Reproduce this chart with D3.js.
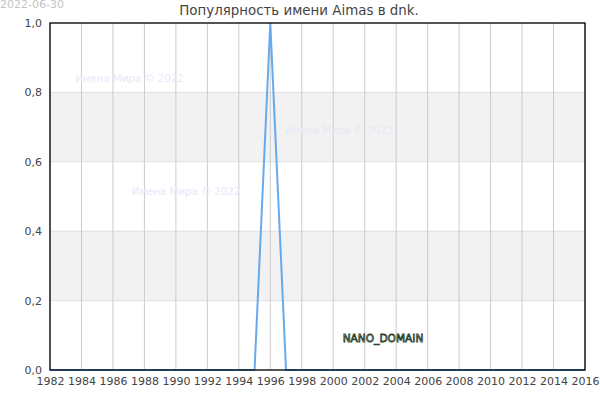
<!DOCTYPE html>
<html>
<head>
<meta charset="utf-8">
<script src="https://cdn.jsdelivr.net/npm/d3@7"></script>
<style>
  body { margin: 0; background: #fff; }
  text { font-family: "DejaVu Sans", sans-serif; }
</style>
</head>
<body>
<div class="graph"></div>
<script>
// data
var years = [1982, 1983, 1984, 1985, 1986, 1987, 1988, 1989, 1990, 1991, 1992, 1993, 1994, 1995,
             1996, 1997, 1998, 1999, 2000, 2001, 2002, 2003, 2004, 2005, 2006, 2007, 2008, 2009,
             2010, 2011, 2012, 2013, 2014, 2015, 2016]
var values = [0, 0, 0, 0, 0, 0, 0, 0, 0, 0, 0, 0, 0, 0,
              1, 0, 0, 0, 0, 0, 0, 0, 0, 0, 0, 0, 0, 0,
              0, 0, 0, 0, 0, 0, 0]
var xTicks = [1982, 1984, 1986, 1988, 1990, 1992, 1994, 1996, 1998, 2000, 2002, 2004, 2006, 2008, 2010, 2012, 2014, 2016]
var yTicks = [0, 0.2, 0.4, 0.6, 0.8, 1.0]
var bands = [[0.2, 0.4], [0.6, 0.8]]
var title = "Популярность имени Aimas в dnk."
var stamp = "2022-06-30"
var marks = [{ x: 1983.6, y: 0.83 }, { x: 1996.9, y: 0.68 }, { x: 1987.2, y: 0.505 }]

var w = 600
var h = 400
var padLeft = 50, padRight = 585, padTop = 23, padBottom = 370

var x = d3.scaleLinear().domain([1982, 2016]).range([padLeft, padRight])
var y = d3.scaleLinear().domain([0, 1]).range([padBottom, padTop])

var svg = d3.select('.graph')
  .append("svg")
  .attr("width", w)
  .attr("height", h)

// grey bands
svg.selectAll("rect.band")
  .data(bands)
  .enter()
  .append("rect")
  .attr("class", "band")
  .attr("x", padLeft)
  .attr("y", function(d){ return y(d[1]) })
  .attr("width", padRight - padLeft)
  .attr("height", function(d){ return y(d[0]) - y(d[1]) })
  .attr("fill", "#f2f2f2")

// horizontal grid
svg.selectAll("line.hgrid")
  .data(yTicks)
  .enter()
  .append("line")
  .attr("class", "hgrid")
  .attr("x1", padLeft).attr("x2", padRight)
  .attr("y1", function(d){ return y(d) })
  .attr("y2", function(d){ return y(d) })
  .attr("stroke", "#e0e0e0")
  .attr("stroke-width", 1)

// vertical grid
svg.selectAll("line.vgrid")
  .data(xTicks)
  .enter()
  .append("line")
  .attr("class", "vgrid")
  .attr("x1", function(d){ return x(d) })
  .attr("x2", function(d){ return x(d) })
  .attr("y1", padTop).attr("y2", padBottom)
  .attr("stroke", "#cccccc")
  .attr("stroke-width", 1)

// watermarks
svg.selectAll("text.wm")
  .data(marks)
  .enter()
  .append("text")
  .attr("class", "wm")
  .text("Имена Мира © 2022")
  .attr("x", function(d){ return x(d.x) })
  .attr("y", function(d){ return y(d.y) })
  .attr("font-size", 10.2)
  .attr("fill", "#e8e8f8")

// the series
var line = d3.line()
  .x(function(d, i){ return x(years[i]) })
  .y(function(d){ return y(d) })

svg.append("path")
  .datum(values)
  .attr("d", line)
  .attr("fill", "none")
  .attr("stroke", "#66aaee")
  .attr("stroke-width", 2)

// frame
svg.append("rect")
  .attr("x", padLeft).attr("y", padTop)
  .attr("width", padRight - padLeft).attr("height", padBottom - padTop)
  .attr("fill", "none")
  .attr("stroke", "#000")
  .attr("stroke-width", 1.3)

// axes
var xAxis = d3.axisBottom(x).tickValues(xTicks).tickFormat(d3.format("d")).tickSize(0).tickPadding(7)
svg.append("g")
  .attr("transform", "translate(0," + padBottom + ")")
  .call(xAxis)
  .call(function(g){ g.select(".domain").remove() })
  .selectAll("text")
  .attr("font-family", "DejaVu Sans, sans-serif")
  .attr("font-size", 11)
  .attr("fill", "#444")

var yAxis = d3.axisLeft(y).tickValues(yTicks)
  .tickFormat(function(d){ return d.toFixed(1).replace(".", ",") })
  .tickSize(0).tickPadding(8)
svg.append("g")
  .attr("transform", "translate(" + padLeft + ",0)")
  .call(yAxis)
  .call(function(g){ g.select(".domain").remove() })
  .selectAll("text")
  .attr("font-family", "DejaVu Sans, sans-serif")
  .attr("font-size", 11)
  .attr("fill", "#444")

// title and date
svg.append("text")
  .text(title)
  .attr("x", 299).attr("y", 15)
  .attr("text-anchor", "middle")
  .attr("font-size", 13.4)
  .attr("fill", "#444")

svg.append("text")
  .text(stamp)
  .attr("x", 0).attr("y", 8)
  .attr("font-size", 11)
  .attr("fill", "#c4c4c4")

// domain label
svg.append("text")
  .text("NANO_DOMAIN")
  .attr("x", x(2000.6)).attr("y", y(0.08))
  .attr("font-size", 10.6)
  .attr("fill", "#e4f0e6")
  .attr("stroke", "#2a3f2f")
  .attr("stroke-width", 0.8)
  .attr("paint-order", "fill")
</script>
</body>
</html>
